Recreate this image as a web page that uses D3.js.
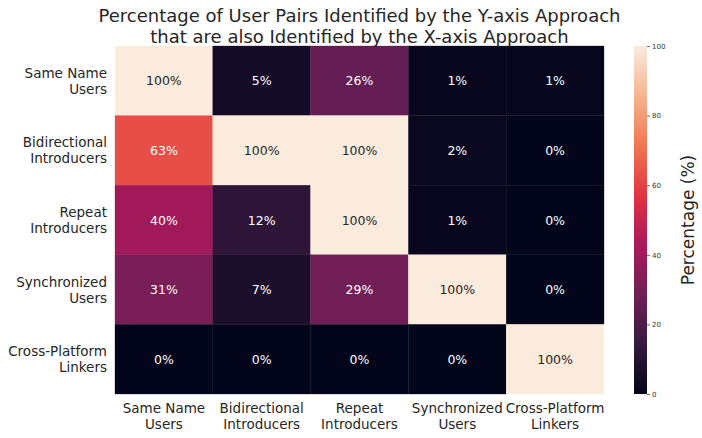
<!DOCTYPE html>
<html>
<head>
<meta charset="utf-8">
<script src="https://cdn.jsdelivr.net/npm/d3@7"></script>
<style>
  body { margin: 0; background: white; }
  text { font-family: "DejaVu Sans", sans-serif; }
</style>
</head>
<body>
<div id="chart"></div>
<script>
const rows = ["Same Name\nUsers", "Bidirectional\nIntroducers", "Repeat\nIntroducers", "Synchronized\nUsers", "Cross-Platform\nLinkers"]
const cols = ["Same Name\nUsers", "Bidirectional\nIntroducers", "Repeat\nIntroducers", "Synchronized\nUsers", "Cross-Platform\nLinkers"]
const values = [
    [100, 5, 26, 1, 1],
    [63, 100, 100, 2, 0],
    [40, 12, 100, 1, 0],
    [31, 7, 29, 100, 0],
    [0, 0, 0, 0, 100],
]
const cbarTicks = [0, 20, 40, 60, 80, 100]
// seaborn "rocket" sampled
const rocketStops = [0, 1 / 7, 2 / 7, 3 / 7, 4 / 7, 5 / 7, 6 / 7, 1]
const rocketColors = ["#03051A", "#35193E", "#701F57", "#AD1759", "#E13342", "#F37651", "#F6B48F", "#FAEBDD"]

const CONFIG = {
    width: 702,
    height: 438,
    left: 115,
    top: 46,
    right: 604,
    bottom: 394,
}

const svg = d3.select('#chart')
    .append('svg')
    .attr('width', CONFIG.width)
    .attr('height', CONFIG.height)

const x = d3.scaleBand().domain(d3.range(cols.length)).range([CONFIG.left, CONFIG.right])
const y = d3.scaleBand().domain(d3.range(rows.length)).range([CONFIG.top, CONFIG.bottom])

const t = d3.scaleLinear().domain([0, 100]).range([0, 1])
const color = d3.scaleLinear()
    .domain(rocketStops.map(s => t.invert(s)))
    .range(rocketColors)
    .interpolate(d3.interpolateRgb)

function textColor(c) {
    const rgb = d3.rgb(c)
    const lin = v => { v /= 255; return v <= 0.03928 ? v / 12.92 : Math.pow((v + 0.055) / 1.055, 2.4) }
    const lum = 0.2126 * lin(rgb.r) + 0.7152 * lin(rgb.g) + 0.0722 * lin(rgb.b)
    return lum > 0.408 ? '#262626' : 'white'
}

const cells = []
values.forEach((row, i) => row.forEach((v, j) => cells.push({ i, j, v })))

// cells
svg.append('g')
    .selectAll('rect')
    .data(cells)
    .enter()
    .append('rect')
    .attr('x', d => x(d.j))
    .attr('y', d => y(d.i))
    .attr('width', x.bandwidth())
    .attr('height', y.bandwidth())
    .attr('fill', d => color(d.v))
    .attr('stroke', d => color(d.v))
    .attr('stroke-width', 0.3)

svg.append('g')
    .selectAll('text')
    .data(cells)
    .enter()
    .append('text')
    .attr('x', d => x(d.j) + x.bandwidth() / 2)
    .attr('y', d => y(d.i) + y.bandwidth() / 2)
    .attr('dy', '0.36em')
    .attr('text-anchor', 'middle')
    .attr('font-size', '12.5px')
    .attr('fill', d => textColor(color(d.v)))
    .text(d => d.v + '%')

// y labels
const yLab = svg.append('g')
    .selectAll('text')
    .data(rows)
    .enter()
    .append('text')
    .attr('text-anchor', 'end')
    .attr('font-size', '13.5px')
    .attr('fill', '#262626')
    .attr('transform', (d, i) => `translate(${CONFIG.left - 8}, ${y(i) + y.bandwidth() / 2})`)
yLab.selectAll('tspan')
    .data(d => d.split('\n'))
    .enter()
    .append('tspan')
    .attr('x', 0)
    .attr('y', (d, k) => k === 0 ? -3 : 13)
    .text(d => d)

// x labels
const xLab = svg.append('g')
    .selectAll('text')
    .data(cols)
    .enter()
    .append('text')
    .attr('text-anchor', 'middle')
    .attr('font-size', '13.5px')
    .attr('fill', '#262626')
    .attr('transform', (d, i) => `translate(${x(i) + x.bandwidth() / 2}, ${CONFIG.bottom})`)
xLab.selectAll('tspan')
    .data(d => d.split('\n'))
    .enter()
    .append('tspan')
    .attr('x', 0)
    .attr('y', (d, k) => k === 0 ? 19 : 35)
    .text(d => d)

// title
svg.append('text')
    .attr('x', (CONFIG.left + CONFIG.right) / 2)
    .attr('y', 22)
    .attr('text-anchor', 'middle')
    .attr('font-size', '18px')
    .attr('fill', '#262626')
    .text('Percentage of User Pairs Identified by the Y-axis Approach')
svg.append('text')
    .attr('x', (CONFIG.left + CONFIG.right) / 2)
    .attr('y', 43)
    .attr('text-anchor', 'middle')
    .attr('font-size', '18px')
    .attr('fill', '#262626')
    .text('that are also Identified by the X-axis Approach')

// colorbar
const cb = { x: 634, w: 13 }
const cbY = d3.scaleLinear().domain([0, 100]).range([CONFIG.bottom, CONFIG.top])
const defs = svg.append('defs')
const grad = defs.append('linearGradient')
    .attr('id', 'rocket')
    .attr('x1', 0).attr('y1', 1).attr('x2', 0).attr('y2', 0)
grad.selectAll('stop')
    .data(d3.range(0, 1.0001, 0.02))
    .enter()
    .append('stop')
    .attr('offset', d => d)
    .attr('stop-color', d => color(t.invert(d)))
svg.append('rect')
    .attr('x', cb.x)
    .attr('y', CONFIG.top)
    .attr('width', cb.w)
    .attr('height', CONFIG.bottom - CONFIG.top)
    .attr('fill', 'url(#rocket)')

const cbAxis = svg.append('g')
    .attr('transform', `translate(${cb.x + cb.w}, 0)`)
    .call(d3.axisRight(cbY).tickValues(cbarTicks).tickSize(3).tickPadding(2))
cbAxis.select('.domain').remove()
cbAxis.selectAll('line').attr('stroke', '#444').attr('stroke-width', 0.8)
cbAxis.selectAll('text')
    .attr('font-size', '7px')
    .attr('fill', '#333')
    .attr('font-family', '"DejaVu Sans", sans-serif')

svg.append('text')
    .attr('transform', `translate(${694}, ${(CONFIG.top + CONFIG.bottom) / 2}) rotate(-90)`)
    .attr('text-anchor', 'middle')
    .attr('font-size', '17px')
    .attr('fill', '#262626')
    .text('Percentage (%)')
</script>
</body>
</html>
